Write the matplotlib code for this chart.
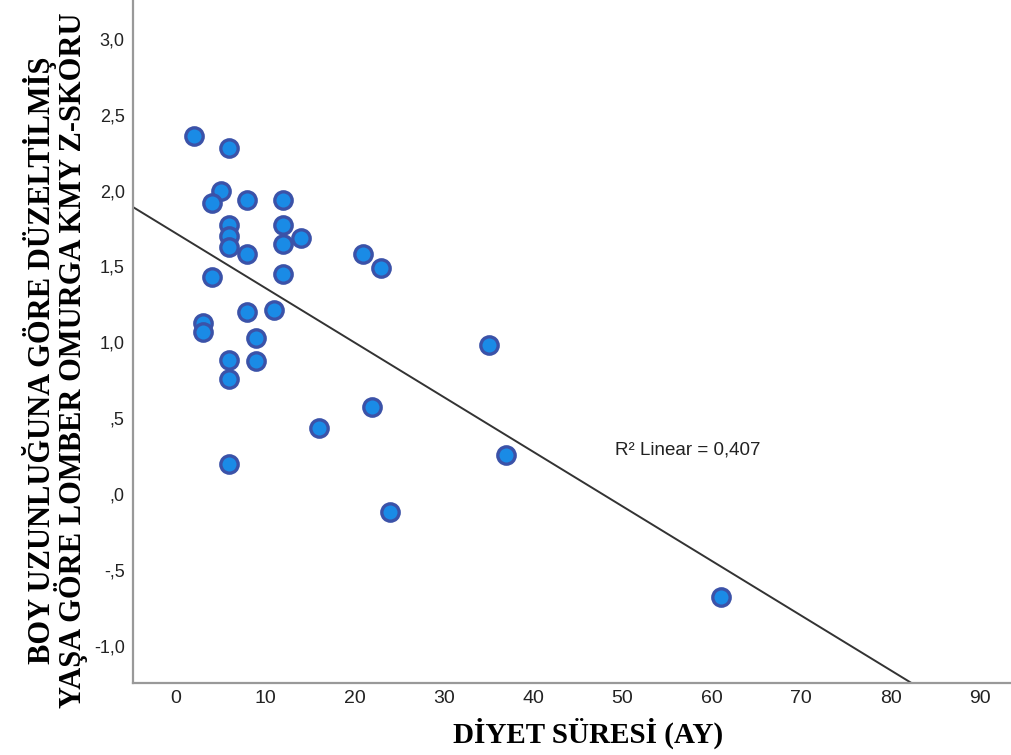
import matplotlib.pyplot as plt
import numpy as np

plt.rcParams['font.family'] = ['Liberation Sans', 'DejaVu Sans']

# diet duration (months) and lumbar spine BMD z-score
diet_months = [2, 6, 5, 4, 8, 12, 6, 6, 6, 12, 12, 14, 8, 21, 23, 4, 12,
               3, 3, 8, 11, 9, 6, 9, 6, 16, 6, 35, 22, 37, 24, 61]
z_score = [2.36, 2.28, 2.00, 1.92, 1.94, 1.94, 1.77, 1.70, 1.63, 1.77, 1.65,
           1.69, 1.58, 1.58, 1.49, 1.43, 1.45, 1.13, 1.07, 1.20, 1.21, 1.03,
           0.88, 0.875, 0.756, 0.433, 0.20, 0.98, 0.57, 0.26, -0.12, -0.68]

x_ticks = [0, 10, 20, 30, 40, 50, 60, 70, 80, 90]
y_ticks = [-1.0, -0.5, 0.0, 0.5, 1.0, 1.5, 2.0, 2.5, 3.0]
y_tick_labels = ["-1,0", "-,5", ",0", ",5", "1,0", "1,5", "2,0", "2,5", "3,0"]

x = np.array(diet_months, dtype=float)
y = np.array(z_score)

fig = plt.figure(figsize=(10.12, 7.55), dpi=100)
ax = fig.add_axes([0.1314, 0.0954, 0.8686, 0.9046])

ax.set_xlim(-4.8, 93.6)
ax.set_ylim(-1.246, 3.256)

# linear fit line
b, a = np.polyfit(x, y, 1)
xx = np.array([-10, 120])
ax.plot(xx, a + b * xx, color="#333333", lw=1.4, zorder=2)

ax.plot(x, y, 'o', ms=12.5, mfc="#1a8be6", mec="#3b52a8", mew=2.4,
        zorder=3, linestyle='none')

ax.text(49.2, 0.29, "R² Linear = 0,407", fontsize=13.5, color="#222222",
        ha='left', va='center')

ax.set_xticks(x_ticks)
ax.set_yticks(y_ticks)
ax.set_yticklabels(y_tick_labels)
ax.tick_params(length=0, colors="#222222")
ax.tick_params(axis='y', pad=6, labelsize=13)
ax.tick_params(axis='x', pad=5, labelsize=14)

for side in ("top", "right"):
    ax.spines[side].set_visible(False)
for side in ("left", "bottom"):
    ax.spines[side].set_color("#999999")
    ax.spines[side].set_linewidth(1.6)

fig.text(588 / 1012, (755 - 743) / 755, "DİYET SÜRESİ (AY)", fontsize=21,
         fontweight='bold', family='Liberation Serif', ha='center',
         va='baseline')
fig.text(55 / 1012, 1 - 360 / 755,
         "BOY UZUNLUĞUNA GÖRE DÜZELTİLMİŞ\nYAŞA GÖRE LOMBER OMURGA KMY Z-SKORU",
         fontsize=22, fontweight='bold', family='Liberation Serif',
         rotation=90, ha='center', va='center', linespacing=0.9,
         multialignment='center')

fig.savefig("out.png", dpi=100)
